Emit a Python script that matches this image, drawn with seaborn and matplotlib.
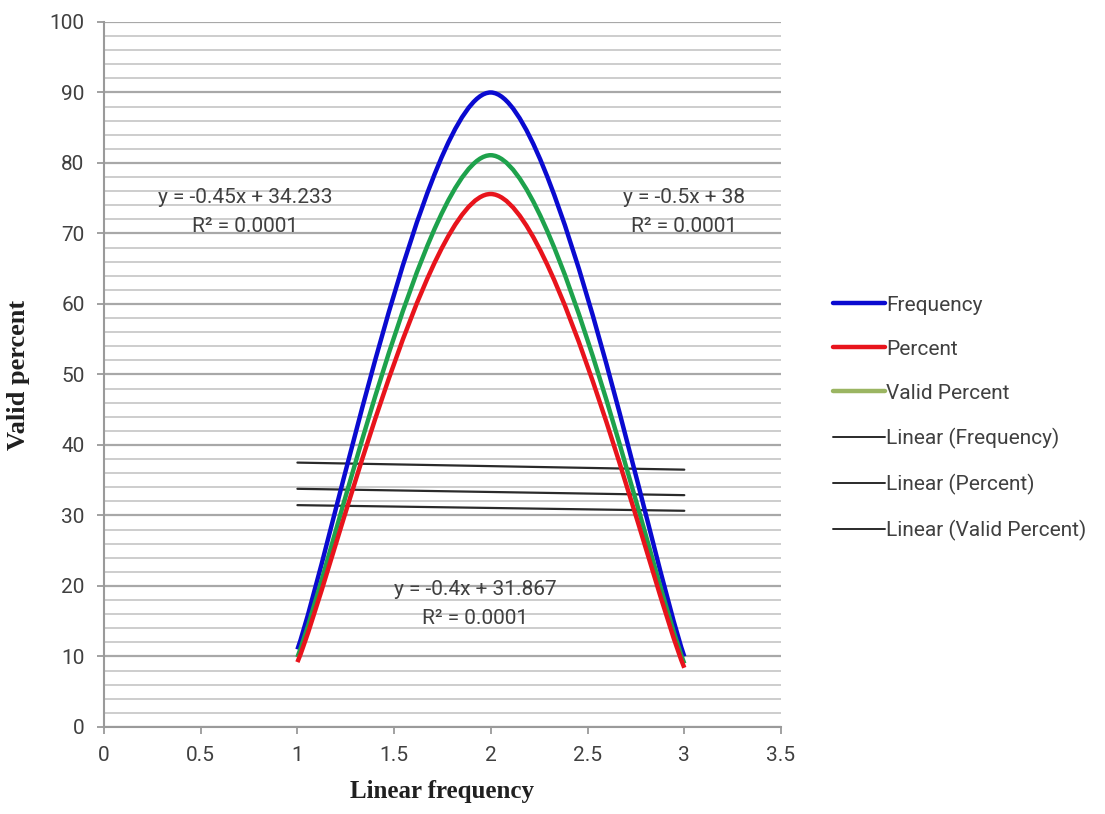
import numpy as np
import pandas as pd
import seaborn as sns
import matplotlib
matplotlib.use("Agg")
import matplotlib.pyplot as plt
from matplotlib.path import Path
from matplotlib.patches import PathPatch
from matplotlib.lines import Line2D
from matplotlib.ticker import MultipleLocator, FuncFormatter

# ---- data ----
x_vals = [1, 2, 3]
frequency = [11, 90, 10]
percent = [9.2, 75.6, 8.4]
valid_percent = [9.9, 81.1, 9.0]
series_names = ["Frequency", "Percent", "Valid Percent"]
eq_texts = ["y = -0.45x + 34.233\nR² = 0.0001",
            "y = -0.5x + 38\nR² = 0.0001",
            "y = -0.4x + 31.867\nR² = 0.0001"]

curve_colors = ["#0a0ad0", "#e8141c", "#1ea24c"]
legend_colors = ["#0a0ad0", "#e8141c", "#9bb562"]

sns.set_theme(style="white")
plt.rcParams["font.family"] = ["Roboto", "DejaVu Sans"]

fig = plt.figure(figsize=(11.05, 8.14), dpi=100)
ax = fig.add_axes([0.0941, 0.1069, 0.6127, 0.8661])


def smooth_path(xs, ys):
    """Excel-style smoothed line: cubic Bezier through the data points."""
    pts = np.column_stack([xs, ys]).astype(float)
    n = len(pts)
    verts = [pts[0]]
    codes = [Path.MOVETO]
    for i in range(n - 1):
        p_prev = pts[i - 1] if i > 0 else pts[i]
        p_next2 = pts[i + 2] if i + 2 < n else pts[i + 1]
        c1 = pts[i] + (pts[i + 1] - p_prev) / 6.0
        c2 = pts[i + 1] - (p_next2 - pts[i]) / 6.0
        verts += [c1, c2, pts[i + 1]]
        codes += [Path.CURVE4] * 3
    return Path(verts, codes)


series = [frequency, percent, valid_percent]
draw_order = [0, 2, 1]
for idx in draw_order:
    patch = PathPatch(smooth_path(x_vals, series[idx]), fill=False,
                      edgecolor=curve_colors[idx], lw=3.2, capstyle="butt",
                      zorder=4)
    ax.add_patch(patch)

# linear trendlines
df = pd.DataFrame({"x": x_vals, "Frequency": frequency, "Percent": percent,
                   "Valid Percent": valid_percent})
for name in series_names:
    sns.regplot(data=df, x="x", y=name, ax=ax, scatter=False, ci=None,
                truncate=True, line_kws=dict(color="#2a2a2a", lw=1.6, zorder=3))

ax.set_xlim(0, 3.5)
ax.set_ylim(0, 100)
ax.xaxis.set_major_locator(MultipleLocator(0.5))
ax.xaxis.set_major_formatter(FuncFormatter(lambda v, p: f"{v:g}"))
ax.yaxis.set_major_locator(MultipleLocator(10))
ax.yaxis.set_minor_locator(MultipleLocator(2))

ax.grid(axis="y", which="major", color="#a8a8a8", lw=1.6, zorder=0)
ax.grid(axis="y", which="minor", color="#cdcdcd", lw=1.4, zorder=0)
ax.set_axisbelow(True)

for s in ["top", "right"]:
    ax.spines[s].set_visible(False)
for s in ["left", "bottom"]:
    ax.spines[s].set_color("#9a9a9a")
    ax.spines[s].set_linewidth(1.5)

ax.tick_params(axis="both", which="major", length=5, width=1.3,
               color="#9a9a9a", labelsize=15, labelcolor="#404040",
               direction="out", left=True, bottom=True, pad=9)
ax.tick_params(axis="y", which="minor", left=False)

ax.set_xlabel("Linear frequency", fontfamily="Liberation Serif",
              fontweight="bold", fontsize=18, color="#202020")
ax.set_ylabel("Valid percent", fontfamily="Liberation Serif",
              fontweight="bold", fontsize=19, color="#202020")
ax.xaxis.set_label_coords(0.5, -0.075)
ax.yaxis.set_label_coords(-0.109, 0.5)

# equation annotations
eq_pos = [(0.73, 73.0), (3.0, 73.0), (1.92, 17.4)]
for txt, (xp, yp) in zip(eq_texts, eq_pos):
    ax.text(xp, yp, txt, ha="center", va="center", fontsize=15,
            color="#404040", linespacing=1.65, zorder=5)

# legend
handles = [Line2D([], [], color=legend_colors[i], lw=3.2) for i in range(3)]
handles += [Line2D([], [], color="#2a2a2a", lw=1.4) for _ in range(3)]
labels = series_names + [f"Linear ({n})" for n in series_names]
leg = fig.legend(handles, labels, loc="upper left",
                 bbox_to_anchor=(0.737, 0.66), frameon=False,
                 fontsize=15, handlelength=2.5, handletextpad=0.05,
                 labelspacing=1.2, labelcolor="#404040")

fig.savefig("out.png", dpi=100)
